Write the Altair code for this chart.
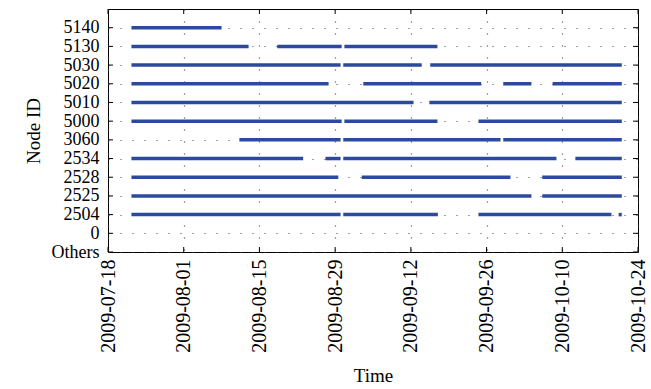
import altair as alt
import pandas as pd

# Node IDs, bottom to top
nodes = ["Others", "0", "2504", "2525", "2528", "2534", "3060",
         "5000", "5010", "5020", "5030", "5130", "5140"]

# Activity segments (node, start, end)
seg_node = [
    "5140",
    "5130", "5130", "5130",
    "5030", "5030", "5030",
    "5020", "5020", "5020", "5020",
    "5010", "5010",
    "5000", "5000", "5000",
    "3060", "3060", "3060",
    "2534", "2534", "2534", "2534",
    "2528", "2528", "2528",
    "2525", "2525",
    "2504", "2504", "2504", "2504",
]
seg_start = [
    "2009-07-22T08:00:00Z",
    "2009-07-22T08:00:00Z", "2009-08-18T07:00:00Z", "2009-08-30T17:00:00Z",
    "2009-07-22T08:00:00Z", "2009-08-30T12:00:00Z", "2009-09-15T14:00:00Z",
    "2009-07-22T08:00:00Z", "2009-09-03T05:00:00Z", "2009-09-29T02:00:00Z", "2009-10-08T05:00:00Z",
    "2009-07-22T08:00:00Z", "2009-09-15T10:00:00Z",
    "2009-07-22T08:00:00Z", "2009-08-30T17:00:00Z", "2009-09-24T12:00:00Z",
    "2009-08-11T07:00:00Z", "2009-08-30T12:00:00Z", "2009-09-29T02:00:00Z",
    "2009-07-22T08:00:00Z", "2009-08-27T05:00:00Z", "2009-08-30T12:00:00Z", "2009-10-12T10:00:00Z",
    "2009-07-22T08:00:00Z", "2009-09-02T22:00:00Z", "2009-10-06T07:00:00Z",
    "2009-07-22T08:00:00Z", "2009-10-06T07:00:00Z",
    "2009-07-22T08:00:00Z", "2009-08-30T12:00:00Z", "2009-09-24T12:00:00Z", "2009-10-20T10:00:00Z",
]
seg_end = [
    "2009-08-08T00:00:00Z",
    "2009-08-13T00:00:00Z", "2009-08-30T05:00:00Z", "2009-09-16T22:00:00Z",
    "2009-08-30T00:00:00Z", "2009-09-14T00:00:00Z", "2009-10-21T00:00:00Z",
    "2009-08-27T19:00:00Z", "2009-09-25T00:00:00Z", "2009-10-04T07:00:00Z", "2009-10-21T00:00:00Z",
    "2009-09-12T12:00:00Z", "2009-10-21T00:00:00Z",
    "2009-08-30T05:00:00Z", "2009-09-16T22:00:00Z", "2009-10-21T00:00:00Z",
    "2009-08-30T00:00:00Z", "2009-09-28T14:00:00Z", "2009-10-21T00:00:00Z",
    "2009-08-23T02:00:00Z", "2009-08-30T00:00:00Z", "2009-10-08T22:00:00Z", "2009-10-21T00:00:00Z",
    "2009-08-29T14:00:00Z", "2009-09-30T10:00:00Z", "2009-10-21T00:00:00Z",
    "2009-10-04T07:00:00Z", "2009-10-21T00:00:00Z",
    "2009-08-30T00:00:00Z", "2009-09-17T00:00:00Z", "2009-10-19T02:00:00Z", "2009-10-21T00:00:00Z",
]

# x tick labels
tick_dates = ["2009-07-18", "2009-08-01", "2009-08-15", "2009-08-29",
              "2009-09-12", "2009-09-26", "2009-10-10", "2009-10-24"]

FONT = "Liberation Serif"
BLUE = "#2b4a9b"
W, H = 530, 243

seg_df = pd.DataFrame({
    "node": seg_node,
    "idx": [nodes.index(n) for n in seg_node],
    "start": seg_start,
    "end": seg_end,
})
tick_df = pd.DataFrame({"date": [d + "T00:00:00Z" for d in tick_dates]})
ytick_df = pd.DataFrame({"idx": list(range(len(nodes)))})


def dt(s):
    y, m, d = (int(v) for v in s.split("-"))
    return alt.DateTime(year=y, month=m, date=d, utc=True)


x_scale = alt.Scale(type="utc", domain=[dt(tick_dates[0]), dt(tick_dates[-1])])
y_scale = alt.Scale(domain=[0, len(nodes)], nice=False, zero=False)

label_expr = "[" + ",".join("'" + n + "'" for n in nodes) + "][datum.value]"

x_axis = alt.Axis(
    values=[dt(d) for d in tick_dates],
    labelExpr="utcFormat(datum.value, '%Y-%m-%d')",
    labelAngle=270, labelPadding=7, ticks=False, domain=False,
    labelOverlap=False, labelFlush=False, labelFontSize=20,
    grid=True, gridDash=[1, 11], gridColor="#444444", gridWidth=1.2,
    title="Time", titlePadding=14,
)
y_axis = alt.Axis(
    values=list(range(len(nodes))), labelExpr=label_expr,
    labelPadding=9, ticks=False, domain=False,
    labelOverlap=False, labelFlush=False, labelFontSize=18,
    grid=True, gridDash=[1, 11], gridColor="#444444", gridWidth=1.2,
    title="Node ID", titlePadding=8,
)

segments = alt.Chart(seg_df).mark_rule(
    color=BLUE, strokeWidth=3.5, strokeCap="butt"
).encode(
    x=alt.X("start:T", scale=x_scale, axis=x_axis),
    x2="end:T",
    y=alt.Y("idx:Q", scale=y_scale, axis=y_axis),
)

xt_bottom = alt.Chart(tick_df).mark_rule(color="black", strokeWidth=1).encode(
    x=alt.X("date:T", scale=x_scale, axis=x_axis),
    y=alt.value(H), y2=alt.value(H - 5),
)
xt_top = alt.Chart(tick_df).mark_rule(color="black", strokeWidth=1).encode(
    x=alt.X("date:T", scale=x_scale, axis=x_axis),
    y=alt.value(0), y2=alt.value(5),
)
yt_left = alt.Chart(ytick_df).mark_rule(color="black", strokeWidth=1).encode(
    y=alt.Y("idx:Q", scale=y_scale, axis=y_axis),
    x=alt.value(0), x2=alt.value(5),
)
yt_right = alt.Chart(ytick_df).mark_rule(color="black", strokeWidth=1).encode(
    y=alt.Y("idx:Q", scale=y_scale, axis=y_axis),
    x=alt.value(W), x2=alt.value(W - 5),
)

chart = alt.layer(segments, xt_bottom, xt_top, yt_left, yt_right).properties(
    width=W, height=H,
    background="white",
    autosize=alt.AutoSizeParams(type="none"),
    padding={"left": 108, "top": 9, "right": 13, "bottom": 137},
).configure_view(
    stroke="black", strokeWidth=1,
).configure_axis(
    labelFont=FONT, labelColor="black",
    titleFont=FONT, titleFontSize=19, titleColor="black", titleFontWeight="normal",
)

chart.save("out.html", embed_options={"renderer": "svg", "actions": False})
